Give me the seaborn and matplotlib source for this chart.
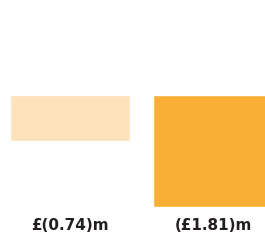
import matplotlib
matplotlib.use("Agg")
import matplotlib.pyplot as plt
import seaborn as sns
import pandas as pd

categories = ["A", "B"]
values = [-0.74, -1.81]
labels = ["£(0.74)m", "(£1.81)m"]
colors = ["#FEE2BC", "#F9AF34"]

sns.set_style("white")
fig = plt.figure(figsize=(2.65, 2.48), dpi=100)
ax = fig.add_axes([0, 0, 1, 1])
df = pd.DataFrame({"cat": categories, "val": values})
sns.barplot(data=df, x="cat", y="val", hue="cat", palette=colors, width=0.839,
            legend=False, ax=ax, saturation=1)
ax.set_xlim(-70 / 143, 195 / 143)
ppu = 62
ax.set_ylim(-(248 - 95) / ppu, 95 / ppu)
ax.axis("off")
label_y = -(225 - 95) / ppu
for i, t in enumerate(labels):
    ax.text(i, label_y, t, ha="center", va="center", fontsize=11, fontweight="bold",
            color="#231F20", family=["Liberation Sans Narrow", "DejaVu Sans"])
fig.savefig("out.png", dpi=100)
